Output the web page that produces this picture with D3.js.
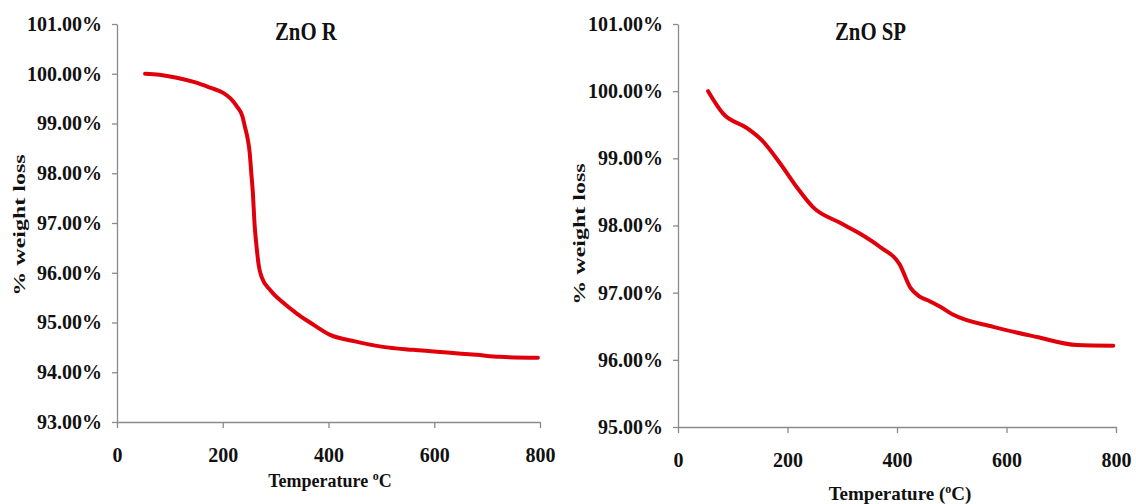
<!DOCTYPE html>
<html>
<head>
<meta charset="utf-8">
<script src="https://cdn.jsdelivr.net/npm/d3@7"></script>
<style>
  body { margin: 0; background: #fff; }
  text { font-family: "Liberation Serif", serif; font-weight: bold; fill: #111; }
</style>
</head>
<body>
<div id="chart"></div>
<script>
// ZnO R thermogram
const tempR = [53, 80, 113, 150, 176, 200, 215, 227, 237, 242, 247, 251, 254, 257, 260, 264, 268, 274, 290, 314, 340, 365, 403, 450, 503, 560, 630, 680, 724, 796];
const weightR = [100.0, 99.98, 99.92, 99.82, 99.72, 99.62, 99.50, 99.34, 99.15, 98.93, 98.70, 98.41, 98.0, 97.6, 97.0, 96.52, 96.15, 95.90, 95.65, 95.40, 95.18, 95.0, 94.75, 94.62, 94.51, 94.45, 94.39, 94.35, 94.31, 94.29];
// ZnO SP thermogram
const tempSP = [55, 82, 126, 153, 186, 217, 247, 296, 332, 369, 405, 424, 440, 455, 479, 503, 576, 656, 729, 795];
const weightSP = [100.0, 99.67, 99.45, 99.27, 98.93, 98.57, 98.27, 98.04, 97.88, 97.68, 97.42, 97.08, 96.95, 96.89, 96.79, 96.67, 96.49, 96.34, 96.22, 96.21];

const xTicks = [0, 200, 400, 600, 800];
const yTicksR = [93, 94, 95, 96, 97, 98, 99, 100, 101];
const yTicksSP = [95, 96, 97, 98, 99, 100, 101];

const W = 1136, H = 504;
const svg = d3.select("#chart").append("svg")
    .attr("width", W)
    .attr("height", H);
svg.append("rect").attr("width", W).attr("height", H).attr("fill", "#fff");

function panel(opt) {
    const x = d3.scaleLinear().domain([0, 800]).range([opt.left, opt.right]);
    const y = d3.scaleLinear().domain(opt.yDomain).range([opt.bottom, opt.top]);

    const xAxis = svg.append("g")
        .attr("transform", `translate(0, ${opt.bottom})`)
        .call(d3.axisBottom(x).tickValues(xTicks).tickSize(6).tickPadding(20).tickSizeOuter(0));
    const yAxis = svg.append("g")
        .attr("transform", `translate(${opt.left}, 0)`)
        .call(d3.axisLeft(y).tickValues(opt.yTicks).tickSize(5).tickPadding(10).tickSizeOuter(0)
            .tickFormat(d => d.toFixed(2) + "%"));

    [xAxis, yAxis].forEach(a => {
        a.select(".domain").attr("stroke", "#8a8a8a").attr("stroke-width", 1.3);
        a.selectAll(".tick line").attr("stroke", "#8a8a8a").attr("stroke-width", 1.3);
        a.selectAll("text").attr("font-family", "Liberation Serif, serif")
            .attr("font-weight", "bold").attr("font-size", 20).attr("fill", "#111");
    });

    const line = d3.line()
        .x((d, i) => x(opt.temps[i]))
        .y(d => y(d))
        .curve(d3.curveMonotoneX);

    svg.append("path")
        .datum(opt.weights)
        .attr("fill", "none")
        .attr("stroke", "#e0000c")
        .attr("stroke-width", 4)
        .attr("stroke-linejoin", "round")
        .attr("stroke-linecap", "round")
        .attr("d", line);

    // titles look horizontally squeezed in the original
    svg.append("text")
        .attr("transform", `translate(${opt.titleX}, 40) scale(0.8, 1)`)
        .attr("font-size", 26)
        .text(opt.title);

    // same squeeze on the rotated label: glyphs thin, run long
    svg.append("text")
        .attr("transform", `translate(${opt.yLabelX}, ${opt.yLabelY}) rotate(-90) scale(1, 0.72)`)
        .attr("text-anchor", "middle")
        .attr("font-size", 24)
        .text("% weight loss");

    const xl = svg.append("text")
        .attr("x", opt.xLabelX).attr("y", opt.xLabelY)
        .attr("text-anchor", "middle")
        .attr("font-size", opt.xLabelSize);
    xl.append("tspan").text(opt.xLabelPre);
    xl.append("tspan").attr("font-size", 12).attr("dy", -7).text("o");
    xl.append("tspan").attr("dy", 7).text(opt.xLabelPost);
}

panel({
    left: 117, right: 540, top: 24, bottom: 422,
    yDomain: [93, 101], yTicks: yTicksR,
    temps: tempR, weights: weightR,
    title: "ZnO R", titleX: 275,
    yLabelX: 25, yLabelY: 225,
    xLabelX: 330, xLabelY: 487, xLabelSize: 18,
    xLabelPre: "Temperature ", xLabelPost: "C"
});

panel({
    left: 678, right: 1116, top: 24, bottom: 427,
    yDomain: [95, 101], yTicks: yTicksSP,
    temps: tempSP, weights: weightSP,
    title: "ZnO SP", titleX: 835,
    yLabelX: 585, yLabelY: 234,
    xLabelX: 900, xLabelY: 500, xLabelSize: 19,
    xLabelPre: "Temperature (", xLabelPost: "C)"
});
</script>
</body>
</html>
